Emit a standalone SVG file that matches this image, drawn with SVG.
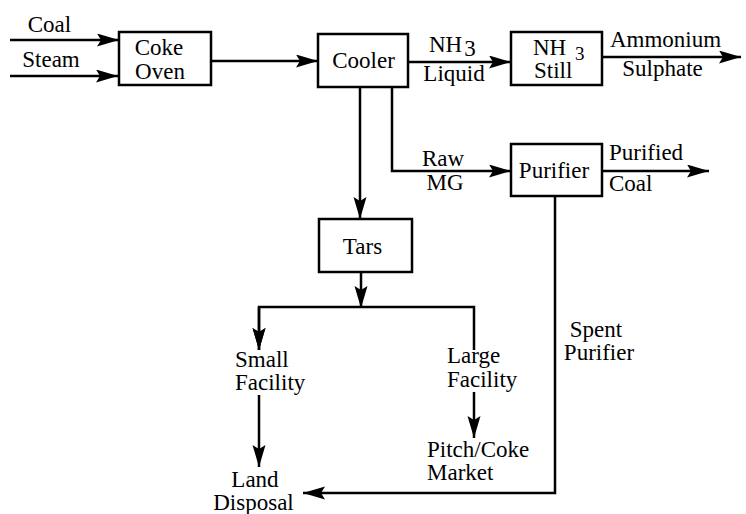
<svg xmlns="http://www.w3.org/2000/svg" width="746" height="514" viewBox="0 0 746 514">
<style>
.box{fill:#fff;stroke:#000;stroke-width:2.5}
.ln{fill:none;stroke:#000;stroke-width:2.5}
.arr{marker-end:url(#ah)}
.m{text-anchor:middle}
</style>
<defs>
<marker id="ah" markerUnits="userSpaceOnUse" markerWidth="24" markerHeight="14" refX="22" refY="6.5" orient="auto">
<path d="M0,0 L22,6.5 L0,13 L4,6.5 Z" fill="#000"/>
</marker>
</defs>
<rect width="746" height="514" fill="#fff"/>
<g id="connectors">
<path class="ln arr" d="M10,40 H119"/>
<path class="ln arr" d="M10,76 H118"/>
<path class="ln arr" d="M211,61 H318"/>
<path class="ln arr" d="M408,62 H511"/>
<path class="ln arr" d="M602,57 H741"/>
<path class="ln arr" d="M360,87 V219"/>
<path class="ln arr" d="M392,87 V171 H511"/>
<path class="ln arr" d="M602,171 H709"/>
<path class="ln arr" d="M361,272 V308"/>
<path class="ln arr" d="M474,350 V307 H259 V350"/>
<path class="ln arr" d="M259,307 V350"/>
<path class="ln arr" d="M259,395 V467"/>
<path class="ln arr" d="M474,392 V438"/>
<path class="ln arr" d="M555,196 V493 H303"/>
</g>
<g font-family="Liberation Serif, DejaVu Serif, Noto Serif, Times New Roman, serif" font-size="23" fill="#000">
<g id="coke-oven">
<rect class="box" x="119" y="32" width="92" height="53"/>
<text class="m" x="159" y="55">Coke</text>
<text class="m" x="160" y="79">Oven</text>
</g>
<g id="cooler">
<rect class="box" x="318" y="34" width="90" height="53"/>
<text class="m" x="363.5" y="68">Cooler</text>
</g>
<g id="nh3-still">
<rect class="box" x="511" y="32" width="91" height="53"/>
<text x="533" y="55">NH<tspan x="575" y="60" font-size="19">3</tspan></text>
<text x="534" y="78">Still</text>
</g>
<g id="purifier">
<rect class="box" x="511" y="144" width="91" height="52"/>
<text class="m" x="554" y="178">Purifier</text>
</g>
<g id="tars">
<rect class="box" x="319" y="219" width="93" height="53"/>
<text class="m" x="362.5" y="254">Tars</text>
</g>
<g id="labels">
<text class="m" x="49.5" y="32">Coal</text>
<text class="m" x="51" y="67">Steam</text>
<text x="429" y="52">NH<tspan dx="2" dy="4">3</tspan></text>
<text class="m" x="454" y="81">Liquid</text>
<text class="m" x="665.5" y="47">Ammonium</text>
<text class="m" x="662.5" y="76">Sulphate</text>
<text class="m" x="443" y="166">Raw</text>
<text class="m" x="445" y="190">MG</text>
<text x="609" y="160">Purified</text>
<text x="609" y="191">Coal</text>
<text x="235" y="367">Small</text>
<text x="235" y="390">Facility</text>
<text x="447" y="363">Large</text>
<text x="447" y="387">Facility</text>
<text class="m" x="255" y="487">Land</text>
<text class="m" x="253.5" y="510">Disposal</text>
<text x="427" y="457">Pitch/Coke</text>
<text x="427" y="480">Market</text>
<text class="m" x="596" y="337">Spent</text>
<text class="m" x="599" y="360">Purifier</text>
</g>
</g>
</svg>
